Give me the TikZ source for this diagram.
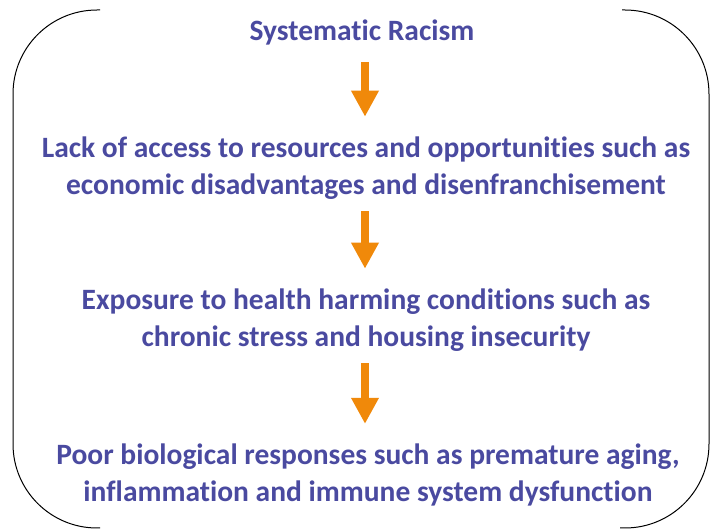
\documentclass[tikz,border=0pt]{standalone}
\usepackage{fontspec}
\setmainfont{Carlito}[Ligatures=NoCommon]
\usepackage{xcolor}
\usepackage{tikz}
\usetikzlibrary{arrows.meta}
\definecolor{textblue}{HTML}{4A4AA0}
\definecolor{arroworange}{HTML}{F0890A}

\begin{document}
\begin{tikzpicture}[x=1pt, y=-1pt,
    stage/.style={text=textblue, font=\bfseries\fontsize{29.5}{36.5}\selectfont, align=center, inner sep=0pt},
    flow/.style={arroworange, line width=8pt, -{Triangle[width=26pt, length=26pt]}}]
    \useasboundingbox (0,0) rectangle (716,529);
    % bracket frame, open at top and bottom
    \draw[line width=1pt, rounded corners=84pt] (100,10) -- (13,10) -- (13,528) -- (100,528);
    \draw[line width=1pt, rounded corners=84pt] (622,10) -- (709,10) -- (709,528) -- (620,528);
    % stages
    \node[stage] (cause) at (362,32) {Systematic Racism};
    \node[stage] (access) at (366,168) {Lack of access to resources and opportunities such as\\economic disadvantages and disenfranchisement};
    \node[stage] (exposure) at (366,320) {Exposure to health harming conditions such as\\chronic stress and housing insecurity};
    \node[stage] (response) at (368,475) {Poor biological responses such as premature aging,\\inflammation and immune system dysfunction};
    % arrows between stages
    \draw[flow, shorten <=17pt, shorten >=20pt] (cause.south -| 365,0) -- (access.north -| 365,0);
    \draw[flow, shorten <=12pt, shorten >=20pt] (access.south -| 365,0) -- (exposure.north -| 365,0);
    \draw[flow, shorten <=12pt, shorten >=20pt] (exposure.south -| 365,0) -- (response.north -| 365,0);
\end{tikzpicture}
\end{document}
